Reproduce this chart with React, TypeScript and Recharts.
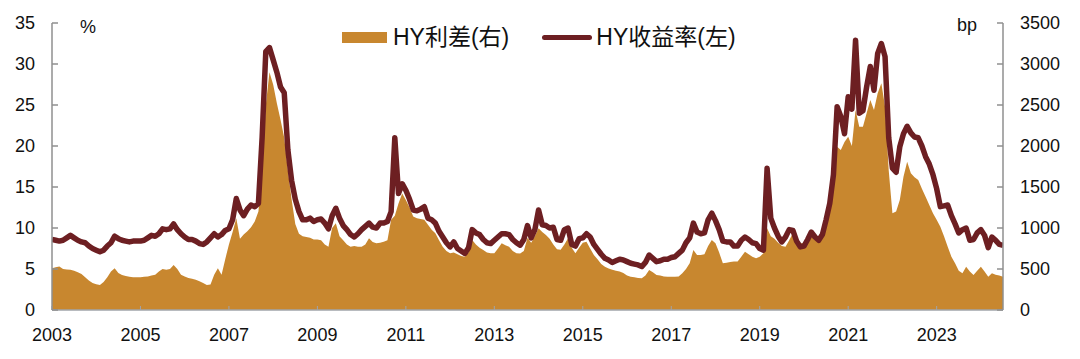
import React from 'react';
import { ComposedChart, Area, Line, XAxis, YAxis } from 'recharts';

// HY收益率(左, %) — monthly, 2003.01 onwards
const hyYield: number[] = [
  8.6, 8.5, 8.4, 8.5, 8.8, 9.1, 8.8, 8.5, 8.3, 8.2, 7.8, 7.5, // 2003
  7.3, 7.1, 7.3, 7.8, 8.2, 9.0, 8.7, 8.5, 8.4, 8.3, 8.4, 8.4, // 2004
  8.4, 8.5, 8.8, 9.1, 9.0, 9.3, 9.9, 9.8, 9.9, 10.5, 9.8, 9.3, // 2005
  8.9, 8.6, 8.6, 8.4, 8.1, 8.0, 8.3, 8.8, 9.3, 8.9, 9.2, 9.7, // 2006
  9.9, 11.0, 13.6, 12.2, 11.5, 12.3, 12.8, 12.6, 13.0, 21.0, 31.5, 32.0, // 2007
  30.5, 29.0, 27.2, 26.5, 19.5, 15.8, 13.5, 12.0, 11.0, 11.0, 11.2, 10.8, // 2008
  11.0, 11.1, 10.6, 9.9, 11.5, 12.4, 11.2, 10.3, 9.8, 9.2, 8.9, 9.3, // 2009
  9.8, 10.2, 10.6, 10.1, 10.0, 10.6, 10.6, 10.8, 12.0, 21.0, 14.2, 15.4, // 2010
  14.6, 13.5, 12.2, 12.1, 12.3, 12.6, 11.2, 11.0, 10.6, 9.6, 8.9, 8.2, // 2011
  7.7, 8.3, 7.5, 7.2, 6.9, 7.6, 9.8, 9.4, 9.2, 8.6, 8.2, 8.1, // 2012
  8.5, 8.9, 9.3, 9.3, 9.2, 8.6, 8.2, 7.9, 8.6, 10.3, 8.8, 9.8, // 2013
  12.2, 10.4, 10.3, 10.0, 10.1, 8.6, 8.5, 9.8, 10.0, 8.0, 7.8, 8.7, // 2014
  8.8, 9.3, 8.9, 8.0, 7.4, 6.8, 6.3, 6.1, 5.8, 6.0, 6.2, 6.1, // 2015
  5.9, 5.7, 5.6, 5.5, 5.3, 5.8, 6.7, 6.3, 5.9, 6.0, 6.2, 6.2, // 2016
  6.4, 6.5, 6.9, 7.3, 8.2, 8.8, 10.6, 9.5, 9.3, 9.4, 11.0, 11.8, // 2017
  10.9, 9.8, 8.4, 8.3, 8.3, 7.8, 7.8, 8.5, 8.9, 8.6, 8.2, 8.1, // 2018
  7.5, 7.3, 17.3, 11.2, 10.0, 9.0, 8.3, 8.9, 9.8, 9.7, 8.4, 7.7, // 2019
  7.8, 8.6, 9.5, 8.9, 8.5, 9.2, 11.0, 13.0, 16.5, 24.8, 23.6, 21.5, // 2020
  26.0, 24.5, 32.9, 24.0, 24.3, 27.2, 29.7, 26.8, 31.3, 32.5, 30.9, 21.0, // 2021
  17.3, 16.8, 19.9, 21.5, 22.4, 21.6, 21.1, 21.0, 20.0, 18.7, 17.8, 16.5, // 2022
  14.8, 12.6, 12.7, 12.8, 11.5, 10.5, 9.4, 9.8, 10.0, 8.5, 8.6, 9.4, // 2023
  9.8, 9.1, 7.6, 8.9, 8.5, 8.0, 7.9, // 2024
];

// HY利差(右, bp)
const hySpread: number[] = [
  510, 520, 530, 500, 495, 490, 480, 460, 440, 400, 360, 330, // 2003
  315, 305, 340, 400, 470, 510, 450, 427, 415, 406, 400, 400, // 2004
  400, 405, 410, 420, 430, 470, 500, 490, 500, 550, 500, 430, // 2005
  410, 390, 380, 370, 350, 330, 305, 310, 430, 510, 430, 620, // 2006
  800, 950, 1120, 870, 920, 960, 1010, 1080, 1200, 1700, 2500, 2900, // 2007
  2750, 2520, 2320, 2100, 1700, 1350, 1050, 930, 900, 890, 880, 860, // 2008
  860, 850, 800, 770, 1000, 1057, 900, 850, 800, 770, 780, 770, // 2009
  770, 800, 874, 830, 813, 820, 833, 850, 1100, 1150, 1300, 1420, // 2010
  1340, 1250, 1140, 1120, 1110, 1100, 1040, 980, 935, 850, 770, 720, // 2011
  691, 700, 680, 660, 650, 700, 854, 800, 760, 732, 700, 691, // 2012
  691, 750, 813, 790, 772, 720, 691, 690, 720, 880, 820, 900, // 2013
  996, 950, 915, 870, 800, 740, 735, 800, 874, 760, 691, 760, // 2014
  820, 833, 750, 671, 620, 560, 528, 505, 490, 480, 470, 450, // 2015
  420, 406, 400, 390, 386, 420, 488, 460, 427, 420, 410, 406, // 2016
  406, 406, 410, 447, 500, 569, 732, 671, 671, 680, 780, 854, // 2017
  813, 700, 569, 575, 585, 590, 590, 650, 711, 680, 650, 630, // 2018
  650, 691, 996, 900, 870, 820, 780, 772, 850, 935, 880, 813, // 2019
  813, 860, 894, 860, 833, 900, 1057, 1260, 1504, 1991, 1950, 2050, // 2020
  2113, 2000, 2439, 2235, 2235, 2400, 2561, 2439, 2642, 2764, 2480, 1700, // 2021
  1179, 1200, 1341, 1626, 1809, 1667, 1620, 1585, 1480, 1382, 1280, 1179, // 2022
  1100, 1016, 900, 772, 650, 569, 480, 447, 528, 470, 427, 480, // 2023
  528, 470, 406, 447, 430, 420, 406, // 2024
];

const startYear = 2003;
const yearTicks = [2003, 2005, 2007, 2009, 2011, 2013, 2015, 2017, 2019, 2021, 2023];
const leftTicks = [0, 5, 10, 15, 20, 25, 30, 35];
const rightTicks = [0, 500, 1000, 1500, 2000, 2500, 3000, 3500];

const data = hyYield.map((v, i) => ({
  t: startYear + i / 12,
  yield: v,
  spread: hySpread[i],
}));

const FONT = '"Liberation Sans", Arial, "Noto Sans CJK SC", sans-serif';
const SPREAD_COLOR = '#C8872F';
const YIELD_COLOR = '#6D1F22';
const AXIS_COLOR = '#8f8f8f';

const tickStyle = { fill: '#111', fontSize: 18, fontFamily: FONT };

export default function App() {
  return (
    <div
      style={{
        position: 'absolute',
        left: 0,
        top: 0,
        width: 1080,
        height: 359,
        background: '#fff',
        fontFamily: FONT,
      }}
    >
      <ComposedChart
        width={1080}
        height={359}
        data={data}
        margin={{ top: 23, right: 0, bottom: 0, left: 0 }}
      >
        <XAxis
          dataKey="t"
          type="number"
          domain={[2003, 2024.5]}
          ticks={yearTicks}
          allowDataOverflow
          height={49}
          tickSize={-4}
          tickMargin={22}
          tick={tickStyle}
          stroke="#a0a4aa"
          tickLine={{ stroke: '#a0a4aa' }}
          axisLine={{ stroke: '#a0a4aa', strokeWidth: 1.5 }}
        />
        <YAxis
          yAxisId="left"
          domain={[0, 35]}
          ticks={leftTicks}
          width={52}
          tickSize={-6}
          tickMargin={23}
          tick={tickStyle}
          axisLine={{ stroke: AXIS_COLOR, strokeWidth: 1.5 }}
          tickLine={{ stroke: AXIS_COLOR, strokeWidth: 1.5 }}
        />
        <YAxis
          yAxisId="right"
          orientation="right"
          domain={[0, 3500]}
          ticks={rightTicks}
          width={77}
          tickSize={-6}
          tickMargin={23}
          tick={tickStyle}
          axisLine={{ stroke: AXIS_COLOR, strokeWidth: 1.5 }}
          tickLine={{ stroke: AXIS_COLOR, strokeWidth: 1.5 }}
        />
        <Area
          yAxisId="right"
          dataKey="spread"
          type="linear"
          fill={SPREAD_COLOR}
          fillOpacity={1}
          stroke="none"
          isAnimationActive={false}
        />
        <Line
          yAxisId="left"
          dataKey="yield"
          type="linear"
          stroke={YIELD_COLOR}
          strokeWidth={5.5}
          strokeLinejoin="round"
          dot={false}
          isAnimationActive={false}
        />
      </ComposedChart>

      {/* unit labels */}
      <div style={{ position: 'absolute', left: 80, top: 17, fontSize: 18, color: '#111' }}>%</div>
      <div style={{ position: 'absolute', left: 957, top: 15, fontSize: 18, color: '#111' }}>bp</div>

      {/* legend */}
      <div
        style={{
          position: 'absolute',
          left: 342,
          top: 24,
          display: 'flex',
          alignItems: 'center',
          fontSize: 23,
          color: '#111',
          lineHeight: '27px',
        }}
      >
        <span style={{ display: 'inline-block', width: 45, height: 11, background: SPREAD_COLOR }} />
        <span style={{ marginLeft: 6 }}>HY利差(右)</span>
        <span
          style={{
            display: 'inline-block',
            width: 50,
            height: 5,
            borderRadius: 3,
            background: YIELD_COLOR,
            marginLeft: 33,
          }}
        />
        <span style={{ marginLeft: 4 }}>HY收益率(左)</span>
      </div>
    </div>
  );
}
